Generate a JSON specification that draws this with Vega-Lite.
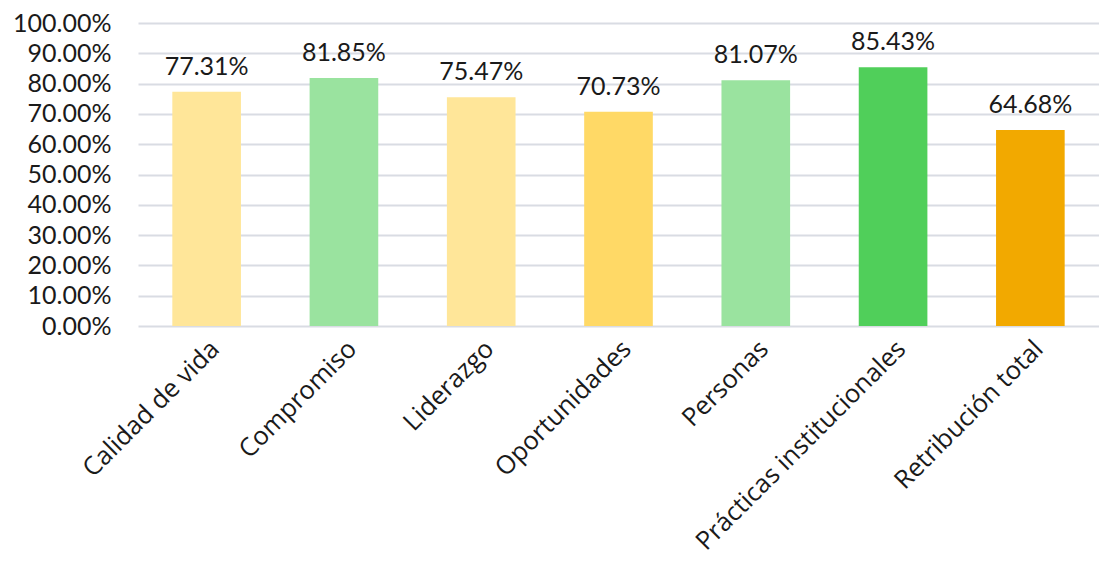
{
  "$schema": "https://vega.github.io/schema/vega-lite/v6.json",
  "width": 961,
  "height": 303,
  "autosize": {"type": "none"},
  "padding": {"left": 138, "top": 23, "right": 0, "bottom": 239},
  "background": "white",
  "config": {
    "view": {"stroke": null},
    "font": "Lato",
    "axis": {"labelFont": "Lato", "labelColor": "#1a1a1a", "labelFontSize": 25}
  },
  "data": {
    "values": [
      {"categoria": "Calidad de vida", "valor": 0.7731, "color": "#FFE699"},
      {"categoria": "Compromiso", "valor": 0.8185, "color": "#9AE39F"},
      {"categoria": "Liderazgo", "valor": 0.7547, "color": "#FFE699"},
      {"categoria": "Oportunidades", "valor": 0.7073, "color": "#FFD966"},
      {"categoria": "Personas", "valor": 0.8107, "color": "#9AE39F"},
      {"categoria": "Prácticas institucionales", "valor": 0.8543, "color": "#50CF5A"},
      {"categoria": "Retribución total", "valor": 0.6468, "color": "#F2A900"}
    ]
  },
  "encoding": {
    "x": {
      "field": "categoria",
      "type": "nominal",
      "sort": null,
      "scale": {"paddingInner": 0.5, "paddingOuter": 0.25},
      "axis": {
        "title": null,
        "labelAngle": -45,
        "ticks": false,
        "domain": false,
        "labelPadding": 10,
        "labelFont": "Open Sans",
        "labelFontSize": 25.5,
        "labelLimit": 400,
        "labelOverlap": false
      }
    },
    "y": {
      "field": "valor",
      "type": "quantitative",
      "scale": {"domain": [0, 1]},
      "axis": {
        "title": null,
        "format": ".2%",
        "values": [0, 0.1, 0.2, 0.3, 0.4, 0.5, 0.6, 0.7, 0.8, 0.9, 1.0],
        "domain": false,
        "ticks": false,
        "labelPadding": 27,
        "labelFontSize": 25,
        "labelOverlap": false,
        "labelBaseline": "middle",
        "labelFlush": false,
        "grid": true,
        "gridColor": "#D9DCE3",
        "gridWidth": 2
      }
    }
  },
  "layer": [
    {
      "mark": {"type": "bar"},
      "encoding": {
        "color": {"field": "color", "type": "nominal", "scale": null}
      }
    },
    {
      "mark": {"type": "text", "baseline": "bottom", "dy": -12, "fontSize": 25, "color": "#1a1a1a", "font": "Lato"},
      "encoding": {
        "text": {"field": "valor", "type": "quantitative", "format": ".2%"}
      }
    }
  ]
}
